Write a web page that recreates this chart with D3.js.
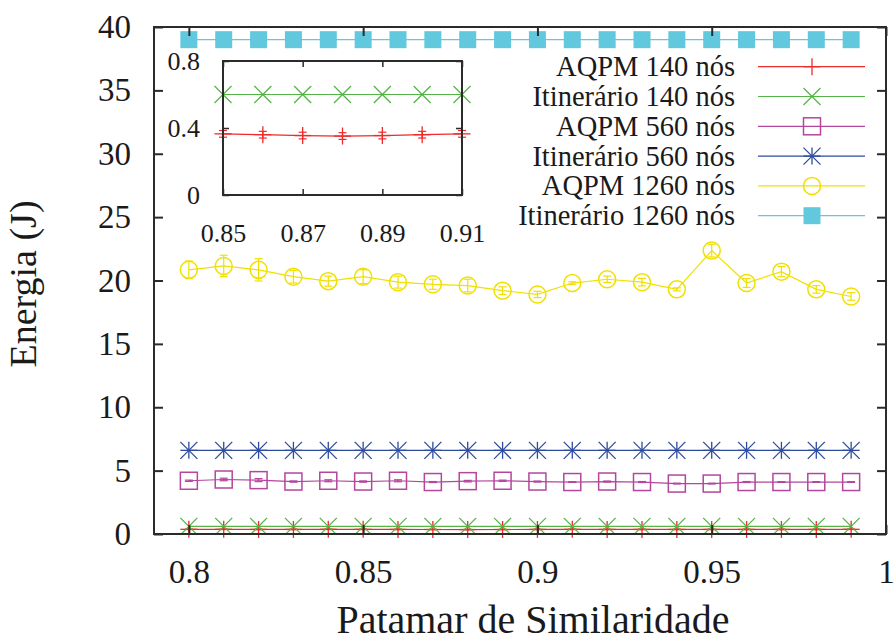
<!DOCTYPE html>
<html>
<head>
<meta charset="utf-8">
<script src="https://cdn.jsdelivr.net/npm/d3@7"></script>
<style>
  body { margin: 0; background: #fff; }
</style>
</head>
<body>
<div id="chart"></div>
<script>
// patamar de similaridade (x)
const similaridade = [0.80, 0.81, 0.82, 0.83, 0.84, 0.85, 0.86, 0.87, 0.88, 0.89,
                      0.90, 0.91, 0.92, 0.93, 0.94, 0.95, 0.96, 0.97, 0.98, 0.99]

// energia (J)
const aqpm140 = [0.37, 0.37, 0.36, 0.36, 0.37, 0.365, 0.36, 0.355, 0.352, 0.355,
                 0.36, 0.365, 0.36, 0.36, 0.36, 0.36, 0.36, 0.36, 0.36, 0.37]
const aqpm140Err = [0.02, 0.02, 0.02, 0.02, 0.02, 0.02, 0.02, 0.02, 0.02, 0.02,
                    0.02, 0.02, 0.02, 0.02, 0.02, 0.02, 0.02, 0.02, 0.02, 0.02]
const itin140 = [0.6, 0.6, 0.6, 0.6, 0.6, 0.6, 0.6, 0.6, 0.6, 0.6,
                 0.6, 0.6, 0.6, 0.6, 0.6, 0.6, 0.6, 0.6, 0.6, 0.6]
const aqpm560 = [4.2, 4.3, 4.25, 4.14, 4.2, 4.14, 4.2, 4.1, 4.17, 4.2,
                 4.14, 4.1, 4.14, 4.1, 3.98, 3.98, 4.1, 4.1, 4.1, 4.1]
const aqpm560Err = [0.05, 0.1, 0.12, 0.05, 0.08, 0.05, 0.08, 0.04, 0.06, 0.05,
                    0.04, 0.03, 0.04, 0.04, 0.03, 0.03, 0.04, 0.03, 0.03, 0.03]
const itin560 = [6.6, 6.6, 6.6, 6.6, 6.6, 6.6, 6.6, 6.6, 6.6, 6.6,
                 6.6, 6.6, 6.6, 6.6, 6.6, 6.6, 6.6, 6.6, 6.6, 6.6]
const aqpm1260 = [20.84, 21.15, 20.84, 20.3, 19.95, 20.3, 19.87, 19.7, 19.6, 19.2,
                  18.9, 19.8, 20.1, 19.87, 19.3, 22.36, 19.8, 20.7, 19.3, 18.74]
const aqpm1260Err = [0.7, 0.84, 0.88, 0.5, 0.4, 0.55, 0.47, 0.4, 0.5, 0.3,
                     0.25, 0.1, 0.25, 0.3, 0.12, 0.5, 0.35, 0.4, 0.3, 0.3]
const itin1260 = [39, 39, 39, 39, 39, 39, 39, 39, 39, 39,
                  39, 39, 39, 39, 39, 39, 39, 39, 39, 39]

const xTicks = [0.8, 0.85, 0.9, 0.95, 1]
const yTicks = [0, 5, 10, 15, 20, 25, 30, 35, 40]
const insetXTicks = [0.85, 0.87, 0.89, 0.91]
const insetYTicks = [0, 0.4, 0.8]

const series = [
  {name: "AQPM 140 nós", values: aqpm140, err: aqpm140Err, color: "#ee2a2a", mark: "plus"},
  {name: "Itinerário 140 nós", values: itin140, err: null, color: "#55b447", mark: "cross"},
  {name: "AQPM 560 nós", values: aqpm560, err: aqpm560Err, color: "#b4469e", mark: "square"},
  {name: "Itinerário 560 nós", values: itin560, err: null, color: "#2d4b9d", mark: "star"},
  {name: "AQPM 1260 nós", values: aqpm1260, err: aqpm1260Err, color: "#f0e000", mark: "circle"},
  {name: "Itinerário 1260 nós", values: itin1260, err: null, color: "#62c8de", mark: "fillsquare"}
]

// pick a serif face that is really installed (falls back to whatever exists)
function pickFont(cands) {
  const ctx = document.createElement("canvas").getContext("2d")
  const probe = "Patamar de Similaridade 0.85 Wij"
  const w = f => { ctx.font = "40px " + f; return ctx.measureText(probe).width }
  for (const base of ["monospace", "sans-serif"]) {
    const ref = w(base)
    for (const c of cands) if (Math.abs(w(`"${c}", ${base}`) - ref) > 0.5) return c
  }
  return cands[0]
}
const serifFace = pickFont(["Liberation Serif", "DejaVu Serif", "Times New Roman", "Tinos", "Noto Serif", "FreeSerif", "Nimbus Roman"])
const fontStack = `"${serifFace}", "Liberation Serif", serif`

const width = 896, height = 641
const margin = {top: 27, right: 10, bottom: 107, left: 154}
const ink = "#1a1a1a"

const svg = d3.select("#chart").append("svg")
    .attr("width", width)
    .attr("height", height)
    .style("font-family", fontStack)

const x = d3.scaleLinear().domain([0.79, 1]).range([margin.left, width - margin.right])
const y = d3.scaleLinear().domain([0, 40]).range([height - margin.bottom, margin.top])

// draws one point symbol
function marker(g, type, cx, cy, color, s) {
  const h = s / 2
  if (type == "plus" || type == "star") {
    g.append("line").attr("x1", cx - h).attr("x2", cx + h).attr("y1", cy).attr("y2", cy)
      .attr("stroke", color).attr("stroke-width", 1.3)
    g.append("line").attr("x1", cx).attr("x2", cx).attr("y1", cy - h).attr("y2", cy + h)
      .attr("stroke", color).attr("stroke-width", 1.3)
  }
  if (type == "cross" || type == "star") {
    g.append("line").attr("x1", cx - h).attr("x2", cx + h).attr("y1", cy - h).attr("y2", cy + h)
      .attr("stroke", color).attr("stroke-width", 1.3)
    g.append("line").attr("x1", cx - h).attr("x2", cx + h).attr("y1", cy + h).attr("y2", cy - h)
      .attr("stroke", color).attr("stroke-width", 1.3)
  }
  if (type == "square") {
    g.append("rect").attr("x", cx - h).attr("y", cy - h).attr("width", s).attr("height", s)
      .attr("fill", "none").attr("stroke", color).attr("stroke-width", 1.5)
  }
  if (type == "fillsquare") {
    g.append("rect").attr("x", cx - h).attr("y", cy - h).attr("width", s).attr("height", s)
      .attr("fill", color)
  }
  if (type == "circle") {
    g.append("circle").attr("cx", cx).attr("cy", cy).attr("r", h)
      .attr("fill", "none").attr("stroke", color).attr("stroke-width", 1.5)
  }
}

function drawSeries(g, s, xs, ys, idx, size) {
  const line = d3.line()
    .x(i => xs(similaridade[i]))
    .y(i => ys(s.values[i]))
  g.append("path")
    .attr("d", line(idx))
    .attr("fill", "none")
    .attr("stroke", s.color)
    .attr("stroke-width", 1.2)
  idx.forEach(i => {
    const cx = xs(similaridade[i]), cy = ys(s.values[i])
    if (s.err) {
      const y0 = ys(s.values[i] - s.err[i]), y1 = ys(s.values[i] + s.err[i])
      g.append("line").attr("x1", cx).attr("x2", cx).attr("y1", y0).attr("y2", y1)
        .attr("stroke", s.color).attr("stroke-width", 1.2)
      g.append("line").attr("x1", cx - 4).attr("x2", cx + 4).attr("y1", y0).attr("y2", y0)
        .attr("stroke", s.color).attr("stroke-width", 1.2)
      g.append("line").attr("x1", cx - 4).attr("x2", cx + 4).attr("y1", y1).attr("y2", y1)
        .attr("stroke", s.color).attr("stroke-width", 1.2)
    }
    marker(g, s.mark, cx, cy, s.color, size)
  })
}

// main plot
const plot = svg.append("g")
const allIdx = similaridade.map((d, i) => i)
series.forEach(s => drawSeries(plot, s, x, y, allIdx, 17))

// frame + ticks (gnuplot style, mirrored, inward)
const frame = svg.append("g")
frame.append("rect")
    .attr("x", x.range()[0]).attr("y", y.range()[1])
    .attr("width", x.range()[1] - x.range()[0])
    .attr("height", y.range()[0] - y.range()[1])
    .attr("fill", "none").attr("stroke", "#2b2b2b").attr("stroke-width", 2)

frame.append("g")
    .attr("transform", `translate(0,${y.range()[0]})`)
    .call(d3.axisBottom(x).tickValues(xTicks).tickSizeInner(-9).tickSizeOuter(0).tickPadding(26)
      .tickFormat(d => d3.format("")(+d.toFixed(2))))
    .call(g => g.select(".domain").remove())
frame.append("g")
    .attr("transform", `translate(0,${y.range()[1]})`)
    .call(d3.axisTop(x).tickValues(xTicks).tickSizeInner(-9).tickSizeOuter(0).tickFormat(""))
    .call(g => g.select(".domain").remove())
frame.append("g")
    .attr("transform", `translate(${x.range()[0]},0)`)
    .call(d3.axisLeft(y).tickValues(yTicks).tickSizeInner(-9).tickSizeOuter(0).tickPadding(23))
    .call(g => g.select(".domain").remove())
frame.append("g")
    .attr("transform", `translate(${x.range()[1]},0)`)
    .call(d3.axisRight(y).tickValues(yTicks).tickSizeInner(-9).tickSizeOuter(0).tickFormat(""))
    .call(g => g.select(".domain").remove())

frame.selectAll("g").attr("font-family", fontStack)
frame.selectAll(".tick line").attr("stroke", "#2b2b2b").attr("stroke-width", 2)
frame.selectAll(".tick text")
    .attr("font-size", 33)
    .attr("fill", ink)

// axis titles
svg.append("text")
    .attr("x", 533).attr("y", 633)
    .attr("text-anchor", "middle")
    .attr("font-size", 40).attr("fill", ink)
    .text("Patamar de Similaridade")
svg.append("text")
    .attr("transform", "translate(36,284) rotate(-90)")
    .attr("text-anchor", "middle")
    .attr("font-size", 38).attr("fill", ink)
    .text("Energia (J)")

// legend
const legend = svg.append("g")
series.forEach((s, i) => {
  const ly = 66.7 + i * 29.8
  legend.append("text")
    .attr("x", 735).attr("y", ly + 9.5)
    .attr("text-anchor", "end")
    .attr("font-size", 28.5).attr("fill", ink)
    .text(s.name)
  legend.append("line")
    .attr("x1", 758).attr("x2", 865).attr("y1", ly).attr("y2", ly)
    .attr("stroke", s.color).attr("stroke-width", 1.2)
  marker(legend, s.mark, 812, ly, s.color, 17)
})

// inset zoom (0.85 - 0.91)
const xi = d3.scaleLinear().domain([0.85, 0.91]).range([223, 462])
const yi = d3.scaleLinear().domain([0, 0.8]).range([195, 61])
const inset = svg.append("g")
inset.append("rect")
    .attr("x", 223).attr("y", 61).attr("width", 239).attr("height", 134)
    .attr("fill", "#fff")
const insetIdx = allIdx.filter(i => similaridade[i] >= 0.849 && similaridade[i] <= 0.911)
series.slice(0, 2).forEach(s => drawSeries(inset, s, xi, yi, insetIdx, 17))

const iframe = svg.append("g")
iframe.append("rect")
    .attr("x", 223).attr("y", 61).attr("width", 239).attr("height", 134)
    .attr("fill", "none").attr("stroke", "#2b2b2b").attr("stroke-width", 2)
iframe.append("g")
    .attr("transform", "translate(0,195)")
    .call(d3.axisBottom(xi).tickValues(insetXTicks).tickSizeInner(-6).tickSizeOuter(0).tickPadding(29)
      .tickFormat(d3.format(".2f")))
    .call(g => g.select(".domain").remove())
iframe.append("g")
    .attr("transform", "translate(0,61)")
    .call(d3.axisTop(xi).tickValues(insetXTicks).tickSizeInner(-6).tickSizeOuter(0).tickFormat(""))
    .call(g => g.select(".domain").remove())
iframe.append("g")
    .attr("transform", "translate(223,0)")
    .call(d3.axisLeft(yi).tickValues(insetYTicks).tickSizeInner(-6).tickSizeOuter(0).tickPadding(23)
      .tickFormat(d => d == 0 ? "0" : d3.format(".1f")(d)))
    .call(g => g.select(".domain").remove())
iframe.append("g")
    .attr("transform", "translate(462,0)")
    .call(d3.axisRight(yi).tickValues(insetYTicks).tickSizeInner(-6).tickSizeOuter(0).tickFormat(""))
    .call(g => g.select(".domain").remove())
iframe.selectAll("g").attr("font-family", fontStack)
iframe.selectAll(".tick line").attr("stroke", "#2b2b2b").attr("stroke-width", 1.5)
iframe.selectAll(".tick text")
    .attr("font-size", 26)
    .attr("fill", ink)
</script>
</body>
</html>
